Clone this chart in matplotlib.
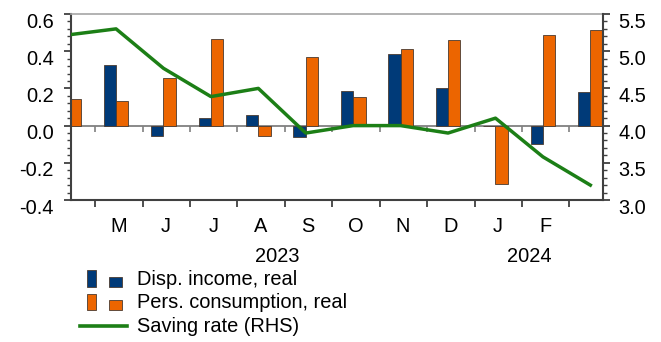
import matplotlib
matplotlib.use('Agg')
import matplotlib.pyplot as plt
import numpy as np
from matplotlib.patches import Rectangle
from matplotlib.lines import Line2D
from matplotlib.ticker import MultipleLocator, FormatStrFormatter
from matplotlib.transforms import blended_transform_factory, ScaledTranslation

plt.rcParams['font.family'] = ['Liberation Sans', 'DejaVu Sans']
plt.rcParams['axes.unicode_minus'] = False

# ---- data ----
months = ['A', 'M', 'J', 'J', 'A', 'S', 'O', 'N', 'D', 'J', 'F', 'M']
month_labels = ['', 'M', 'J', 'J', 'A', 'S', 'O', 'N', 'D', 'J', 'F', '']
income = [np.nan, 0.324, -0.054, 0.041, 0.057, -0.061, 0.186, 0.383, 0.203, 0.0, -0.097, 0.181]
consumption = [0.144, 0.133, 0.254, 0.468, -0.054, 0.367, 0.152, 0.414, 0.459, -0.314, 0.486, 0.516]
saving = [5.22, 5.30, 4.77, 4.39, 4.50, 3.90, 4.00, 4.00, 3.90, 4.10, 3.58, 3.20]
years = ['2023', '2024']
year_pos = [4.39, 9.72]
legend_labels = ['Disp. income, real', 'Pers. consumption, real', 'Saving rate (RHS)']

BLUE = '#003a78'
ORANGE = '#ec6500'
GREEN = '#1c7f16'
EDGE = '#4a3a30'
DARK = '#404040'
GRAY = '#808080'
FS = 14.4

W, H = 661, 342
fig = plt.figure(figsize=(W / 100, H / 100), dpi=100)

def fx(px):
    return px / W

def fy(py):
    return 1 - py / H

ax = fig.add_axes([fx(71), fy(200), (603 - 71) / W, (200 - 14) / H])
x = np.arange(len(months))
bw = 0.26
ax.bar(x - bw / 2, income, bw, color=BLUE, edgecolor=EDGE, linewidth=0.6, zorder=2)
ax.bar(x + bw / 2, consumption, bw, color=ORANGE, edgecolor=EDGE, linewidth=0.6, zorder=2)
ax.set_xlim(0.128, 11.267)
ax.set_ylim(-0.4, 0.6)

ax.yaxis.set_major_locator(MultipleLocator(0.2))
ax.yaxis.set_minor_locator(MultipleLocator(0.04))
ax.yaxis.set_major_formatter(FormatStrFormatter('%.1f'))
ax.tick_params(axis='y', which='major', direction='out', length=5, width=1.3, color=DARK,
               labelsize=FS, pad=7.5)
ax.tick_params(axis='y', which='minor', direction='out', length=3, width=1.0, color=DARK)

bounds = np.arange(11) + 0.56
ax.set_xticks(bounds)
ax.set_xticklabels([])
ax.set_xticks(x + 0.05, minor=True)
ax.set_xticklabels(month_labels, minor=True)
ax.tick_params(axis='x', which='major', direction='out', length=5, width=1.3, color=DARK)
ax.tick_params(axis='x', which='minor', length=0, labelsize=FS, pad=12)

for s in ['left', 'bottom']:
    ax.spines[s].set_color(DARK)
    ax.spines[s].set_linewidth(1.5)
ax.spines['top'].set_color('#a6a6a6')
ax.spines['top'].set_linewidth(1.2)
ax.spines['right'].set_visible(False)

# zero axis with ticks
sec = ax.secondary_xaxis(0.4)
sec.set_xticks(bounds)
sec.set_xticklabels([])
sec.tick_params(axis='x', direction='out', length=4, width=1.2, color=GRAY)
for s in sec.spines.values():
    s.set_color(GRAY)
    s.set_linewidth(1.3)

trans = blended_transform_factory(ax.transData, fig.transFigure)
for yl, xp in zip(years, year_pos):
    ax.text(xp, fy(256), yl, transform=trans, ha='center', va='center', fontsize=FS)

ax2 = ax.twinx()
ax2.plot(x, saving, color=GREEN, linewidth=2.5, zorder=3)
ax2.set_ylim(3.0, 5.5)
ax2.yaxis.set_major_locator(MultipleLocator(0.5))
ax2.yaxis.set_minor_locator(MultipleLocator(0.1))
ax2.yaxis.set_major_formatter(FormatStrFormatter('%.1f'))
ax2.tick_params(axis='y', which='major', direction='out', length=5, width=1.3, color=DARK,
                labelsize=FS, pad=6)
ax2.tick_params(axis='y', which='minor', direction='out', length=3, width=1.0, color=DARK)
for s in ['left', 'bottom', 'top']:
    ax2.spines[s].set_visible(False)
ax2.spines['right'].set_color(DARK)
ax2.spines['right'].set_linewidth(1.5)

# y tick labels sit a little below their ticks (as in the reference)
shift = ScaledTranslation(0, -6 / 100, fig.dpi_scale_trans)
for a in (ax, ax2):
    for lab in a.get_yticklabels():
        lab.set_transform(lab.get_transform() + shift)

# ---- legend (manual, Excel style) ----
rows = [(BLUE, 286.7), (ORANGE, 310.2)]
for (col, yb), lab in zip(rows, legend_labels[:2]):
    fig.add_artist(Rectangle((fx(86.7), fy(yb)), (96 - 86.7) / W, 16.5 / H,
                             transform=fig.transFigure, facecolor=col, edgecolor=EDGE, linewidth=0.6))
    fig.add_artist(Rectangle((fx(109), fy(yb)), 12.7 / W, 10 / H,
                             transform=fig.transFigure, facecolor=col, edgecolor=EDGE, linewidth=0.6))
    fig.text(fx(136.7), fy(yb - 7.5), lab, ha='left', va='center', fontsize=FS)
fig.add_artist(Line2D([fx(80), fx(127.3)], [fy(326), fy(326)], transform=fig.transFigure,
                      color=GREEN, linewidth=2.6))
fig.text(fx(136.7), fy(326), legend_labels[2], ha='left', va='center', fontsize=FS)

fig.savefig('out.png', dpi=100)
